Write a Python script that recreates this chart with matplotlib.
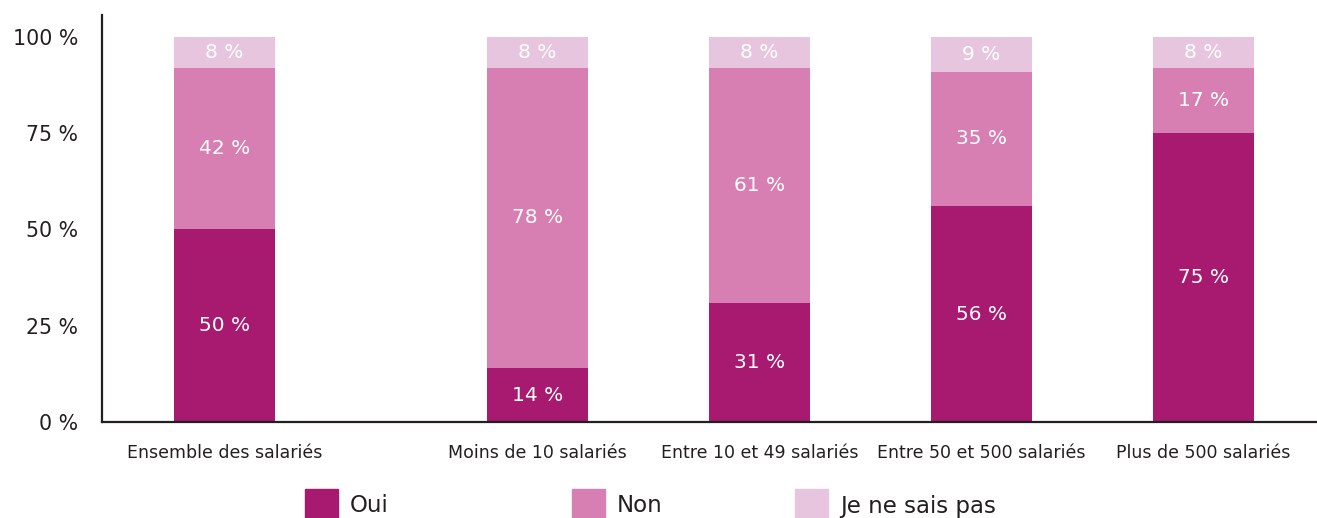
import matplotlib
matplotlib.use("Agg")
import matplotlib.pyplot as plt
from matplotlib.patches import Rectangle
import numpy as np

categories = ["Ensemble des salariés", "Moins de 10 salariés", "Entre 10 et 49 salariés",
              "Entre 50 et 500 salariés", "Plus de 500 salariés"]
oui = [50, 14, 31, 56, 75]
non = [42, 78, 61, 35, 17]
nsp = [8, 8, 8, 9, 8]
series_names = ["Oui", "Non", "Je ne sais pas"]
yticks = [0, 25, 50, 75, 100]

colors = ["#a71a6f", "#d77eb2", "#e8c5de"]
ink = "#231f20"

plt.rcParams["font.family"] = ["DejaVu Sans"]

x = np.array([0, 1.41, 2.41, 3.41, 4.41])
width = 0.455

fig = plt.figure(figsize=(13.17, 5.18), dpi=100)
ax = fig.add_axes([102 / 1317, 96 / 518, 1 - 102 / 1317, (422 - 15) / 518])

bottom = np.zeros(len(x))
for vals, col in zip([oui, non, nsp], colors):
    vals = np.array(vals, dtype=float)
    ax.bar(x, vals, width=width, bottom=bottom, color=col, edgecolor="none", zorder=2)
    for xi, b, v in zip(x, bottom, vals):
        ax.text(xi, b + v / 2, f"{int(v)} %", ha="center", va="center",
                color="white", fontsize=14.5)
    bottom += vals

ax.set_xlim(-0.552, 4.921)
ax.set_ylim(0, 105.7)
ax.set_yticks(yticks)
ax.set_yticklabels([f"{t} %" for t in yticks], fontsize=14.8, color=ink)
ax.set_xticks(x)
ax.set_xticklabels(categories, fontsize=12.5, color=ink)
ax.tick_params(axis="y", length=0, pad=17)
ax.tick_params(axis="x", length=0, pad=16)
for s in ["top", "right"]:
    ax.spines[s].set_visible(False)
for s in ["left", "bottom"]:
    ax.spines[s].set_color(ink)
    ax.spines[s].set_linewidth(1.6)

# legend drawn by hand to keep the uneven spacing of the original
leg_x = [305, 572, 795]
for lx, name, col in zip(leg_x, series_names, colors):
    fig.add_artist(Rectangle((lx / 1317, 0), 33 / 1317, 29 / 518, color=col,
                             transform=fig.transFigure))
    fig.text((lx + 45) / 1317, (518 - 506) / 518, name, ha="left", va="center",
             fontsize=16.5, color=ink)

fig.savefig("out.png", dpi=100)
